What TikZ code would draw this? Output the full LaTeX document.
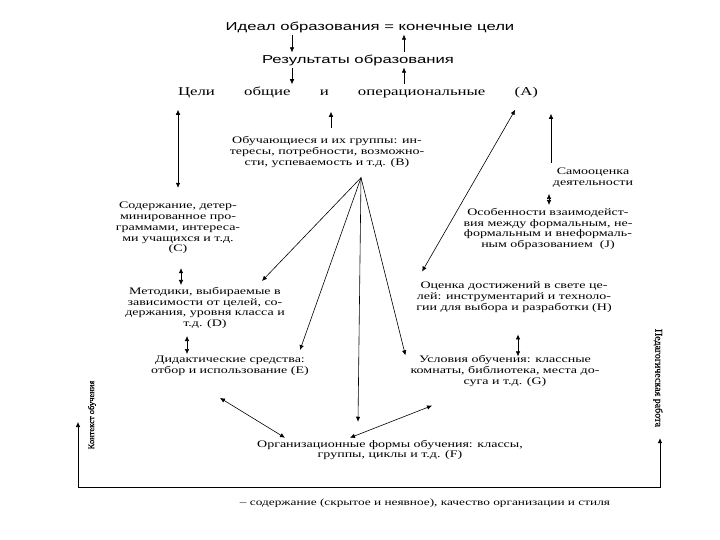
\documentclass[tikz,border=0pt]{standalone}
\usepackage{fontspec}
\setmainfont{Liberation Serif}[FakeStretch=1.4]
\newfontfamily\headfont{Liberation Sans}[FakeStretch=1.45]
\newfontfamily\sidefont{Liberation Serif}[FakeBold=0.6]
\usepackage{tikz}
\usetikzlibrary{arrows.meta,positioning,calc}

\tikzset{
    box/.style={align=center, inner sep=2pt, font=\fontsize{10}{10.8}\selectfont},
    head/.style={inner sep=2pt, font=\headfont\fontsize{11.5}{13}\selectfont},
    side/.style={inner sep=1pt, font=\sidefont\fontsize{9}{10}\selectfont},
    link/.style={line width=0.6pt}
}

\begin{document}
\begin{tikzpicture}[x=1pt, y=-1pt, >={Latex[length=5pt,width=4.5pt]}]
    \useasboundingbox (0,0) rectangle (720,540);

    % Goals chain at the top
    \node[head] (ideal) at (370,27) {Идеал образования = конечные цели};
    \node[head] (results) at (358,60) {Результаты образования};
    \node[box, font=\fontsize{12}{13}\selectfont] (goals) at (358,92)
        {\hbox to 360pt{Цели\hfill общие\hfill и\hfill операциональные\hfill (А)}};

    \draw[->, link] ([xshift=-78pt]ideal.south) -- ([xshift=-66pt]results.north);
    \draw[->, link] ([xshift=46pt]results.north) -- ([xshift=34pt]ideal.south);
    \draw[->, link] ([xshift=-66pt]results.south) -- ([xshift=-66pt]goals.north);
    \draw[->, link] ([xshift=46pt]goals.north) -- ([xshift=46pt]results.south);

    % Learners and the branches below
    \node[box] (learners) at (327,152) {Обучающиеся и их группы: ин-\\тересы, потребности, возможно-\\сти, успеваемость и т.д. (В)};
    \node[box] (selfeval) at (593,178) {Самооценка\\деятельности};
    \node[box] (interact) at (548,229) {Особенности взаимодейст-\\вия между формальным, не-\\формальным и внеформаль-\\ным образованием\ \ (J)};
    \node[box] (assess) at (514,297) {Оценка достижений в свете це-\\лей: инструментарий и техноло-\\гии для выбора и разработки (Н)};
    \node[box] (content) at (178,228) {Содержание, детер-\\минированное про-\\граммами, интереса-\\ми учащихся и т.д.\\(С)};
    \node[box] (methods) at (205,308) {Методики, выбираемые в\\зависимости от целей, со-\\держания, уровня класса и\\т.д. (D)};
    \node[box] (means) at (230,366) {Дидактические средства:\\отбор и использование (Е)};
    \node[box] (conds) at (505,371) {Условия обучения: классные\\комнаты, библиотека, места до-\\суга и т.д. (G)};
    \node[box] (forms) at (390,450) {Организационные формы обучения: классы,\\группы, циклы и т.д. (F)};

    \draw[<->, link, shorten <=10pt, shorten >=12pt] (goals.south -| content.north) -- (content.north);
    \draw[->, link, shorten <=6pt, shorten >=12pt] ([xshift=4pt]learners.north) -- ([xshift=4pt]learners.north |- goals.south);
    \draw[<->, link] ([xshift=-25pt,yshift=-10pt]goals.south east) -- ([xshift=8pt,yshift=8pt]assess.north west);
    \draw[->, link, shorten <=3pt, shorten >=14pt] ([xshift=-42pt]selfeval.north) -- ([xshift=-42pt]selfeval.north |- goals.south);
    \draw[<->, link, shorten <=4pt, shorten >=1pt] ([xshift=-44pt]selfeval.south) -- ([xshift=-44pt]selfeval.south |- interact.north);
    \draw[<->, link, shorten <=12pt] ([xshift=3pt]content.south) -- ([xshift=3pt]content.south |- methods.north);
    \draw[<->, link, shorten <=5pt] ([xshift=-18pt]methods.south) -- ([xshift=-18pt]methods.south |- means.north);
    \draw[<->, link, shorten <=20pt, shorten >=-3pt] ([xshift=4pt]assess.south) -- ([xshift=4pt]assess.south |- conds.north);

    % Fan out of the learners
    \coordinate (fan) at ([xshift=34pt,yshift=-8pt]learners.south);
    \draw[->, link] (fan) -- ([xshift=57pt,yshift=4pt]methods.north);
    \draw[->, link] (fan) -- ([xshift=70pt,yshift=4pt]means.north);
    \draw[->, link] (fan) -- ([xshift=-32pt,yshift=16pt]forms.north);
    \draw[->, link] (fan) -- ([xshift=-3pt,yshift=-2pt]conds.north west);

    \draw[<->, link] ([xshift=-10pt,yshift=-20pt]means.south) -- ([xshift=30pt]forms.north west);
    \draw[<->, link] ([xshift=-73pt,yshift=-17pt]conds.south) -- ([xshift=-40pt]forms.north);

    % Frame at the bottom
    \node[side, rotate=90, font=\sidefont\fontsize{8.5}{10}\selectfont] (context) at (92,415) {Контекст обучения};
    \node[side, rotate=-90, font=\sidefont\fontsize{10}{11}\selectfont] (pedwork) at (658,378) {Педагогическая работа};
    \node[box, font=\fontsize{9.5}{10}\selectfont] (hidden) at (425,503) {– содержание (скрытое и неявное), качество организации и стиля};

    \coordinate (lbend) at (78,487);
    \coordinate (rbend) at (660,487);
    \draw[<->, link] ([yshift=-7pt]context.north -| lbend) -- (lbend) -- (rbend) -- ([yshift=-10pt]pedwork.east -| rbend);
\end{tikzpicture}
\end{document}
